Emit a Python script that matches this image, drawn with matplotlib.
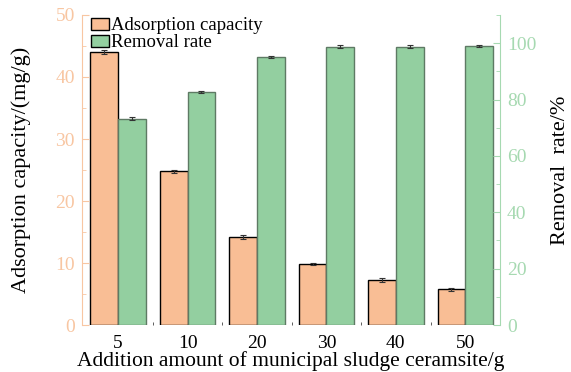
import matplotlib
matplotlib.use("Agg")
import matplotlib.pyplot as plt
from matplotlib.ticker import MultipleLocator, FixedLocator
import numpy as np

plt.rcParams['font.family'] = ['Liberation Serif', 'DejaVu Serif']

dosages = ['5', '10', '20', '30', '40', '50']
capacity = [44.0, 24.8, 14.2, 9.8, 7.3, 5.8]
capacity_err = [0.3, 0.25, 0.25, 0.2, 0.3, 0.25]
removal = [73.2, 82.6, 95.0, 98.8, 98.8, 98.9]
removal_err = [0.5, 0.4, 0.4, 0.5, 0.4, 0.4]

orange = '#F9BE95'
green = '#93CFA0'
orange_axis = '#F8C6A2'
green_axis = '#A6D9B1'

fig = plt.figure(figsize=(5.71, 3.72), dpi=100)
ax = fig.add_axes([0.1436, 0.1263, 0.7321, 0.8334])
ax2 = ax.twinx()

x = np.arange(len(dosages))
w = 0.4

b1 = ax.bar(x - w / 2, capacity, w, color=orange, edgecolor='black', linewidth=1.0,
            yerr=capacity_err, error_kw=dict(ecolor='#333333', elinewidth=0.8, capsize=2.5, capthick=0.8),
            label='Adsorption capacity')
b2 = ax2.bar(x + w / 2, removal, w, color=green, edgecolor='#5E7A64', linewidth=1.0,
             yerr=removal_err, error_kw=dict(ecolor='#333333', elinewidth=0.8, capsize=2.5, capthick=0.8),
             label='Removal rate')

ax.set_xlim(-0.52, 5.5)
ax.set_ylim(0, 50)
ax2.set_ylim(0, 110)

ax.set_xticks(x)
ax.set_xticklabels(dosages, fontsize=14)
ax.xaxis.set_minor_locator(FixedLocator(x[:-1] + 0.5))
ax.tick_params(axis='x', which='major', length=0, pad=7)
ax.tick_params(axis='x', which='minor', direction='in', length=2.5, color='#444444')

ax.yaxis.set_major_locator(MultipleLocator(10))
ax.yaxis.set_minor_locator(MultipleLocator(5))
ax.tick_params(axis='y', which='both', direction='in', colors=orange_axis, labelsize=14)
ax.tick_params(axis='y', which='major', length=5, pad=5)
ax.tick_params(axis='y', which='minor', length=3)

ax2.yaxis.set_major_locator(FixedLocator([0, 20, 40, 60, 80, 100]))
ax2.yaxis.set_minor_locator(MultipleLocator(10))
ax2.tick_params(axis='y', which='both', direction='in', colors=green_axis, labelsize=14)
ax2.tick_params(axis='y', which='major', length=5, pad=5)
ax2.tick_params(axis='y', which='minor', length=3)

for a in (ax, ax2):
    a.spines['top'].set_visible(False)
    a.spines['bottom'].set_visible(False)
ax.spines['left'].set_color(orange_axis)
ax.spines['right'].set_visible(False)
ax2.spines['left'].set_visible(False)
ax2.spines['right'].set_color(green_axis)

ax.set_ylabel('Adsorption capacity/(mg/g)', fontsize=16)
ax.yaxis.set_label_coords(-0.122, 0.5)
ax2.set_ylabel('Removal  rate/%', fontsize=16)
ax2.yaxis.set_label_coords(1.122, 0.5)
ax.set_xlabel('Addition amount of municipal sludge ceramsite/g', fontsize=15.5)
ax.xaxis.set_label_coords(0.5, -0.085)

leg = ax.legend([b1, b2], ['Adsorption capacity', 'Removal rate'], loc='upper left',
                bbox_to_anchor=(-0.01, 1.035), frameon=False, fontsize=13.5,
                handlelength=0.95, handleheight=0.6, handletextpad=0.1, labelspacing=0.0,
                borderaxespad=0.3)
for h in leg.legend_handles:
    h.set_edgecolor('black')

fig.savefig('out.png', dpi=100)
